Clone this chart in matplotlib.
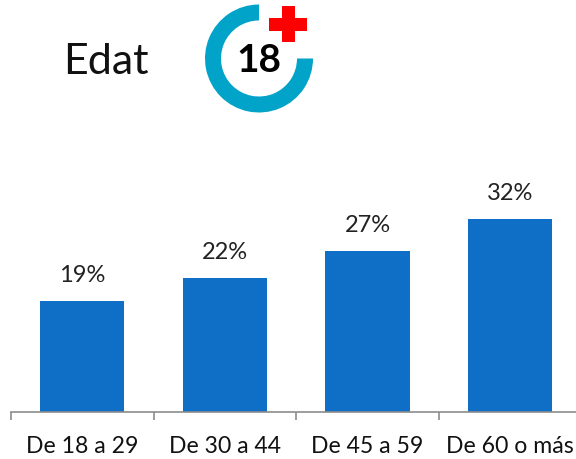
import matplotlib
matplotlib.use('Agg')
import matplotlib.pyplot as plt
from matplotlib.patches import Wedge, Rectangle

categories = ['De 18 a 29', 'De 30 a 44', 'De 45 a 59', 'De 60 o más']
values = [18.4, 22.2, 26.7, 32]
labels = ['19%', '22%', '27%', '32%']

plt.rcParams['font.family'] = ['Lato', 'DejaVu Sans']

fig = plt.figure(figsize=(5.76, 4.6), dpi=100)
W, H = 576, 460

# bars area: axis runs past the right edge of the picture
ax = fig.add_axes([11/W, 1-412.8/H, 570.5/W, 240/H])
x = [0, 1, 2, 3]
ax.bar(x, values, width=0.59, color='#0F6FC6')
ax.set_xlim(-0.5, 3.5)
ax.set_ylim(0, 240/193*32)
for s in ['top', 'right', 'left']:
    ax.spines[s].set_visible(False)
ax.spines['bottom'].set_color('#8C8C8C')
ax.spines['bottom'].set_linewidth(1.2)
ax.set_yticks([])
ax.set_xticks([-0.5, 0.5, 1.5, 2.5, 3.5])
ax.set_xticklabels([])
ax.tick_params(axis='x', length=5.8, direction='out', color='#8C8C8C', width=1.2)
for i, c in enumerate(categories):
    ax.annotate(c, (i, 0), xytext=(0, -24.5), textcoords='offset points', ha='center', va='center', fontsize=16.6, color='#111111', annotation_clip=False)
for i, v in enumerate(values):
    ax.annotate(labels[i], (i, v), xytext=(0, 18.7), textcoords='offset points', ha='center', va='center', fontsize=17, color='#222222')

# header in pixel coords
ov = fig.add_axes([0, 0, 1, 1])
ov.set_xlim(0, W)
ov.set_ylim(H, 0)
ov.axis('off')
ov.patch.set_alpha(0)
ov.text(106, 62, 'Edat', ha='center', va='center', fontsize=31, color='#111111')
ov.add_patch(Wedge((259, 59.5), 54, 0, 270, width=16, facecolor='#02A3C8', edgecolor='none'))
ov.text(259, 61, '18', ha='center', va='center', fontsize=28, fontweight='bold', color='#000000')
ov.add_patch(Rectangle((282, 7), 13, 36, facecolor='#FF0000', edgecolor='none'))
ov.add_patch(Rectangle((269, 19), 38, 13, facecolor='#FF0000', edgecolor='none'))

fig.savefig('out.png', dpi=100)
